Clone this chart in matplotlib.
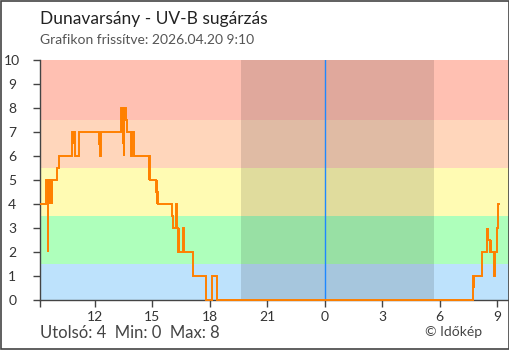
import pandas as pd
import matplotlib
matplotlib.use("Agg")
import matplotlib.pyplot as plt
from matplotlib.patches import Rectangle

# ---------------------------
# ------ DATA ---------------
# ---------------------------
station = "Dunavarsány"
updated = "2026.04.20 9:10"

# UV-B readings (step values, each holds until the next time stamp)
uv_times = [
    "04-19 09:10", "04-19 09:25", "04-19 09:32", "04-19 09:33", "04-19 09:37",
    "04-19 09:39", "04-19 09:40", "04-19 09:41", "04-19 09:43", "04-19 09:44",
    "04-19 09:46", "04-19 10:02", "04-19 10:06", "04-19 10:48", "04-19 10:49",
    "04-19 10:51", "04-19 10:52", "04-19 10:54", "04-19 10:55", "04-19 10:57",
    "04-19 11:10", "04-19 12:13", "04-19 12:16", "04-19 12:17", "04-19 12:18",
    "04-19 13:23", "04-19 13:25", "04-19 13:26", "04-19 13:27", "04-19 13:28",
    "04-19 13:31", "04-19 13:32", "04-19 13:36", "04-19 13:41", "04-19 13:52",
    "04-19 13:53", "04-19 13:54", "04-19 13:55", "04-19 14:02", "04-19 14:49",
    "04-19 14:50", "04-19 14:51", "04-19 14:53", "04-19 15:12", "04-19 15:13",
    "04-19 15:14", "04-19 15:15", "04-19 15:16", "04-19 16:02", "04-19 16:04",
    "04-19 16:14", "04-19 16:16", "04-19 16:17", "04-19 16:19", "04-19 16:20",
    "04-19 16:21", "04-19 16:23", "04-19 16:24", "04-19 16:37", "04-19 16:38",
    "04-19 16:39", "04-19 16:40", "04-19 17:08", "04-19 17:47", "04-19 18:06",
    "04-19 18:08", "04-19 18:22",
    "04-20 07:44", "04-20 07:45", "04-20 07:46", "04-20 07:47", "04-20 07:48",
    "04-20 08:12", "04-20 08:28", "04-20 08:30", "04-20 08:31", "04-20 08:33",
    "04-20 08:37", "04-20 08:38", "04-20 08:39", "04-20 08:41", "04-20 08:42",
    "04-20 08:52", "04-20 08:54", "04-20 08:59", "04-20 09:02", "04-20 09:04",
    "04-20 09:07",
]
uv_values = [
    4, 5, 2, 5, 4.5,
    4, 5, 4, 5, 4,
    5, 5.5, 6, 6.5, 7,
    6.5, 7, 6.5, 7, 6,
    7, 6.5, 7, 6, 7,
    8, 7, 8, 6.5, 8,
    6, 8, 7.5, 7, 6,
    7, 6, 7, 6, 5,
    6, 5.5, 5, 4.5, 5,
    4, 4.5, 4, 3.5, 3,
    4, 3.5, 3, 2, 3,
    2, 3, 2, 3, 2,
    3, 2, 1, 0, 0.5,
    1, 0,
    1, 0, 1, 0.5, 1,
    2, 3, 2.5, 3, 2.5,
    2, 2.5, 2, 2.5, 2,
    1, 2, 3, 3.5, 4,
    4,
]

# UV level bands (bottom, top, colour)
band_edges = [0, 1.5, 3.5, 5.5, 7.5, 10]
band_colors = ["#bde2fc", "#aeffbb", "#fffbb3", "#ffd6bb", "#ffc0b2"]

sunset = "04-19 19:38"
sunrise = "04-20 05:43"
midnight = "04-20 00:00"

tick_hours = [12, 15, 18, 21, 24, 27, 30, 33]
tick_labels = ["12", "15", "18", "21", "0", "3", "6", "9"]

last_val, min_val, max_val = 4, 0, 8

# ---------------------------
# ------ HELPERS ------------
# ---------------------------
t0 = pd.Timestamp("2026-04-19 00:00")


def to_hours(s):
    t = pd.Timestamp("2026-" + s)
    return (t - t0).total_seconds() / 3600.0


plt.rcParams['font.family'] = ['Lato', 'DejaVu Sans']

fig = plt.figure(figsize=(5.1, 3.5), dpi=100)
ax = fig.add_axes([40 / 510, 50 / 350, 469 / 510, 240 / 350])

for i, c in enumerate(band_colors):
    ax.axhspan(band_edges[i], band_edges[i + 1], color=c, lw=0, zorder=0)

ax.axvspan(to_hours(sunset), to_hours(sunrise), color="black", alpha=0.12, lw=0, zorder=1)
ax.axvline(to_hours(midnight), color="#1e88ff", lw=1, zorder=2)

x = [to_hours(s) for s in uv_times]
ax.step(x, uv_values, where="post", color="#ff8000", lw=1.4, zorder=3,
        solid_joinstyle="miter", clip_on=False)

ax.set_xlim(9.126, 33.63)
ax.set_ylim(0, 10)

ax.set_xticks([9.126] + tick_hours)
ax.set_xticklabels([""] + tick_labels)
ax.set_yticks(range(11))
ax.tick_params(axis="x", length=5, width=1, color="#444444", pad=3,
               labelsize=10, labelcolor="#333333")
ax.tick_params(axis="y", length=5, width=1, color="#444444", pad=15,
               labelsize=10, labelcolor="#333333")
for lab in ax.get_yticklabels():
    lab.set_horizontalalignment("center")

for side in ["top", "right"]:
    ax.spines[side].set_visible(False)
for side in ["left", "bottom"]:
    ax.spines[side].set_color("#444444")
    ax.spines[side].set_linewidth(1)

fig.text(40 / 510, 1 - 19 / 350, f"{station} - UV-B sugárzás", fontsize=12.5,
         color="#222222", va="center", ha="left")
fig.text(40 / 510, 1 - 40 / 350, f"Grafikon frissítve: {updated}", fontsize=10,
         color="#555555", va="center", ha="left")
fig.text(40 / 510, 1 - 333 / 350, f"Utolsó: {last_val}  Min: {min_val}  Max: {max_val}",
         fontsize=12, color="#444444", va="center", ha="left")
fig.text(425 / 510, 1 - 332 / 350, "© Időkép", fontsize=10,
         color="#444444", va="center", ha="left")

# outer frame
fig.patches.append(Rectangle((0.001, 0.0015), 0.998, 0.997, transform=fig.transFigure,
                             fill=False, edgecolor="#444444", lw=1.2))

fig.savefig("out.png", dpi=100)
